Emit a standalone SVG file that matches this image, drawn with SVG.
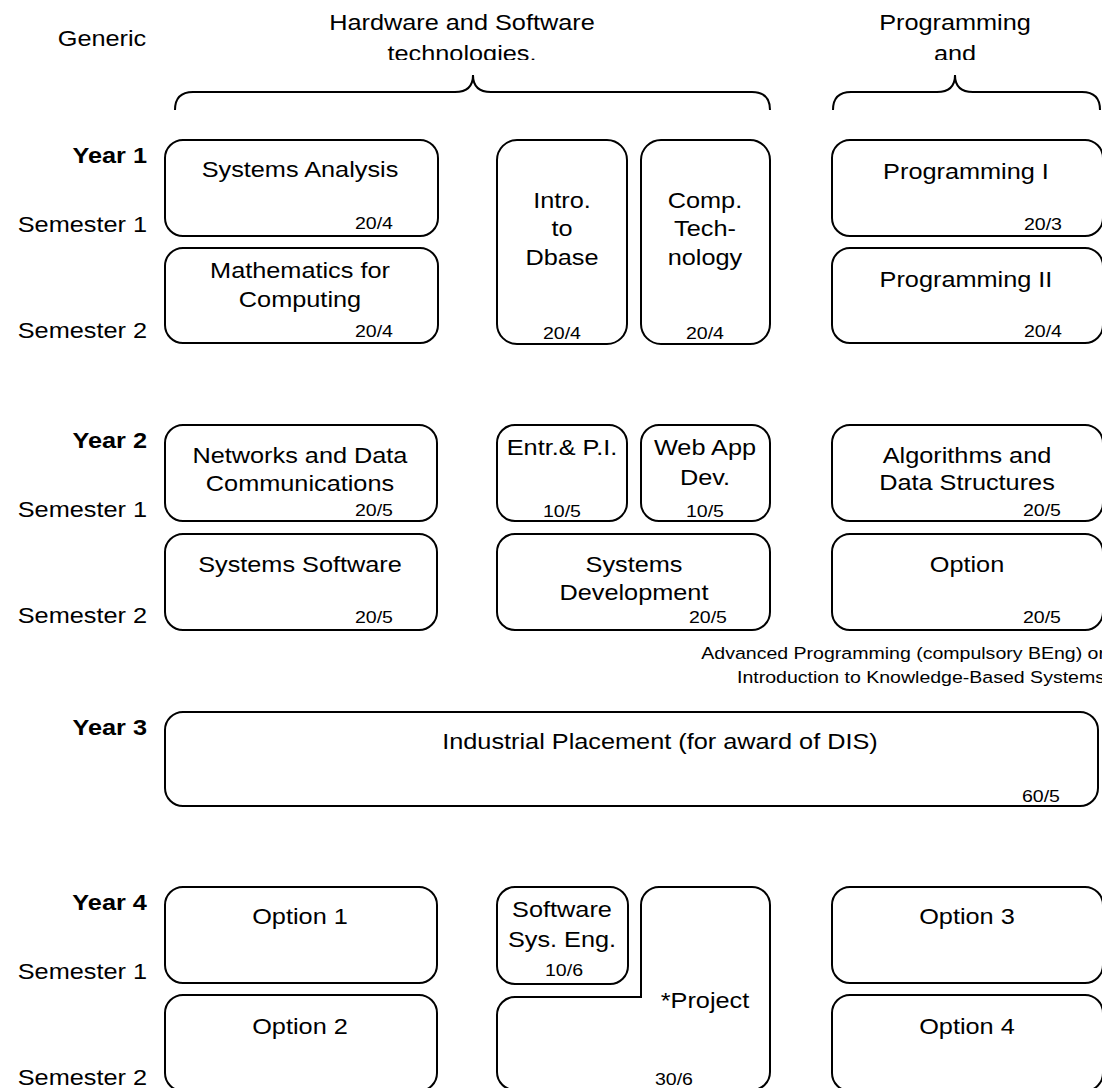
<svg xmlns="http://www.w3.org/2000/svg" width="1102" height="1088" viewBox="0 0 1102 1088">
<style>
text { font-family: "Liberation Sans", Arial, sans-serif; fill: #000; transform-box: fill-box; transform: scaleX(1.15); }
.t { font-size: 22px; }
.s { font-size: 17px; }
.b { font-weight: bold; }
.m { text-anchor: middle; transform-origin: center; }
.e { text-anchor: end; transform-origin: right center; }
.box { fill: #fff; stroke: #000; stroke-width: 2; }
.brace { fill: none; stroke: #000; stroke-width: 2; }
</style>
<defs>
<clipPath id="hdr"><rect x="0" y="0" width="1102" height="60"/></clipPath>
</defs>
<rect width="1102" height="1088" fill="#fff"/>

<g id="header">
<text class="t m" x="102" y="46">Generic</text>
<g clip-path="url(#hdr)">
<text class="t m" x="462" y="30">Hardware and Software</text>
<text class="t m" x="462" y="61">technologies.</text>
<text class="t m" x="955" y="30">Programming</text>
<text class="t m" x="955" y="61">and</text>
</g>
</g>

<g id="connectors">
<path class="brace" d="M175,110 Q175,92 193,92 H455 Q473,92 473,75 Q473,92 491,92 H752 Q770,92 770,110"/>
<path class="brace" d="M833,110 Q833,92 851,92 H937 Q955,92 955,75 Q955,92 973,92 H1082 Q1100,92 1100,110"/>
</g>

<g id="labels">
<text class="t b e" x="147" y="163">Year 1</text>
<text class="t e" x="147" y="232">Semester 1</text>
<text class="t e" x="147" y="338">Semester 2</text>
<text class="t b e" x="147" y="448">Year 2</text>
<text class="t e" x="147" y="517">Semester 1</text>
<text class="t e" x="147" y="623">Semester 2</text>
<text class="t b e" x="147" y="735">Year 3</text>
<text class="t b e" x="147" y="910">Year 4</text>
<text class="t e" x="147" y="979">Semester 1</text>
<text class="t e" x="147" y="1085">Semester 2</text>
</g>

<g id="systems-analysis">
<rect class="box" x="165" y="140" width="273" height="96" rx="18"/>
<text class="t m" x="300" y="177">Systems Analysis</text>
<text class="s e" x="393" y="229">20/4</text>
</g>
<g id="mathematics">
<rect class="box" x="165" y="248" width="273" height="95" rx="18"/>
<text class="t m" x="300" y="278">Mathematics for</text>
<text class="t m" x="300" y="307">Computing</text>
<text class="s e" x="393" y="337">20/4</text>
</g>
<g id="intro-dbase">
<rect class="box" x="497" y="140" width="130" height="204" rx="20"/>
<text class="t m" x="562" y="208">Intro.</text>
<text class="t m" x="562" y="236">to</text>
<text class="t m" x="562" y="265">Dbase</text>
<text class="s m" x="562" y="339">20/4</text>
</g>
<g id="comp-tech">
<rect class="box" x="641" y="140" width="129" height="204" rx="20"/>
<text class="t m" x="705" y="208">Comp.</text>
<text class="t m" x="705" y="236">Tech-</text>
<text class="t m" x="705" y="265">nology</text>
<text class="s m" x="705" y="339">20/4</text>
</g>
<g id="programming-1">
<rect class="box" x="832" y="140" width="271" height="96" rx="18"/>
<text class="t m" x="966" y="179">Programming I</text>
<text class="s e" x="1062" y="230">20/3</text>
</g>
<g id="programming-2">
<rect class="box" x="832" y="248" width="271" height="95" rx="18"/>
<text class="t m" x="966" y="287">Programming II</text>
<text class="s e" x="1062" y="337">20/4</text>
</g>

<g id="networks">
<rect class="box" x="165" y="425" width="272" height="96" rx="18"/>
<text class="t m" x="300" y="463">Networks and Data</text>
<text class="t m" x="300" y="491">Communications</text>
<text class="s e" x="393" y="516">20/5</text>
</g>
<g id="systems-software">
<rect class="box" x="165" y="534" width="272" height="96" rx="18"/>
<text class="t m" x="300" y="572">Systems Software</text>
<text class="s e" x="393" y="623">20/5</text>
</g>
<g id="entr-pi">
<rect class="box" x="497" y="425" width="130" height="96" rx="18"/>
<text class="t m" x="562" y="455">Entr.&amp; P.I.</text>
<text class="s m" x="562" y="517">10/5</text>
</g>
<g id="web-app">
<rect class="box" x="641" y="425" width="129" height="96" rx="18"/>
<text class="t m" x="705" y="455">Web App</text>
<text class="t m" x="705" y="485">Dev.</text>
<text class="s m" x="705" y="517">10/5</text>
</g>
<g id="systems-development">
<rect class="box" x="497" y="534" width="273" height="96" rx="18"/>
<text class="t m" x="634" y="572">Systems</text>
<text class="t m" x="634" y="600">Development</text>
<text class="s e" x="727" y="623">20/5</text>
</g>
<g id="algorithms">
<rect class="box" x="832" y="425" width="271" height="96" rx="18"/>
<text class="t m" x="967" y="463">Algorithms and</text>
<text class="t m" x="967" y="490">Data Structures</text>
<text class="s e" x="1061" y="516">20/5</text>
</g>
<g id="option-y2">
<rect class="box" x="832" y="534" width="271" height="96" rx="18"/>
<text class="t m" x="967" y="572">Option</text>
<text class="s e" x="1061" y="623">20/5</text>
</g>
<g id="option-note">
<text class="s e" x="1105" y="659">Advanced Programming (compulsory BEng) or</text>
<text class="s e" x="1105" y="683">Introduction to Knowledge-Based Systems</text>
</g>

<g id="industrial-placement">
<rect class="box" x="165" y="712" width="933" height="94" rx="18"/>
<text class="t m" x="660" y="749">Industrial Placement (for award of DIS)</text>
<text class="s e" x="1060" y="802">60/5</text>
</g>

<g id="option-1">
<rect class="box" x="165" y="887" width="272" height="96" rx="18"/>
<text class="t m" x="300" y="924">Option 1</text>
</g>
<g id="option-2">
<rect class="box" x="165" y="995" width="272" height="96" rx="18"/>
<text class="t m" x="300" y="1034">Option 2</text>
</g>
<g id="software-sys-eng">
<rect class="box" x="497" y="887" width="131" height="97" rx="18"/>
<text class="t m" x="562" y="917">Software</text>
<text class="t m" x="562" y="947">Sys. Eng.</text>
<text class="s m" x="564" y="976">10/6</text>
</g>
<g id="project">
<path class="box" d="M641,905 A18,18 0 0 1 659,887 H752 A18,18 0 0 1 770,905 V1072 A18,18 0 0 1 752,1090 H515 A18,18 0 0 1 497,1072 V1015 A18,18 0 0 1 515,997 H641 Z"/>
<text class="t m" x="705" y="1008">*Project</text>
<text class="s m" x="674" y="1085">30/6</text>
</g>
<g id="option-3">
<rect class="box" x="832" y="887" width="271" height="96" rx="18"/>
<text class="t m" x="967" y="924">Option 3</text>
</g>
<g id="option-4">
<rect class="box" x="832" y="995" width="271" height="96" rx="18"/>
<text class="t m" x="967" y="1034">Option 4</text>
</g>
</svg>
